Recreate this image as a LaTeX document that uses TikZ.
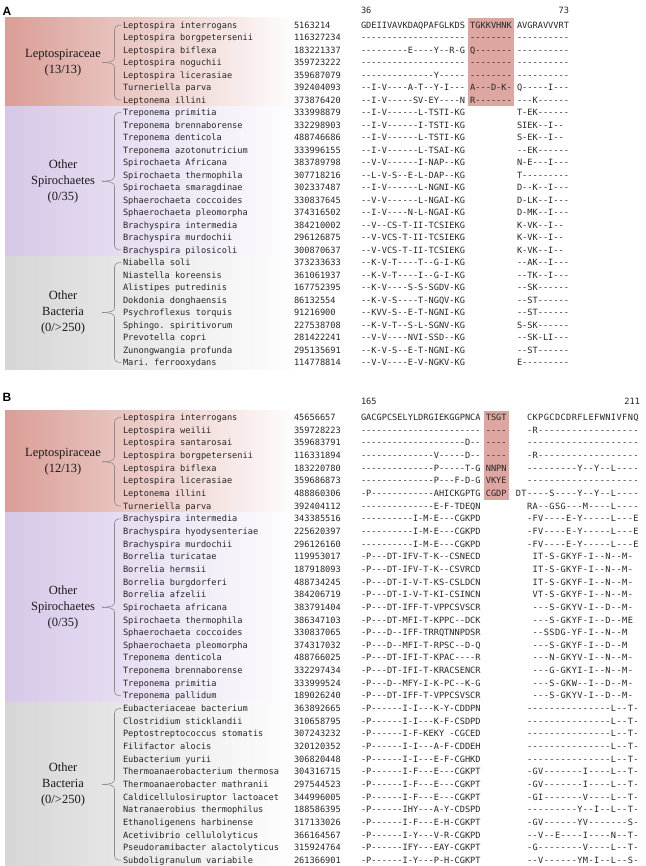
\documentclass[tikz,border=0pt]{standalone}
\usepackage{fontspec}
\setmainfont{Liberation Serif}
\setmonofont{DejaVu Sans Mono}
\newfontfamily\widemono{DejaVu Sans Mono}[LetterSpace=4.6]
\newfontfamily\lsans{Liberation Sans}
\definecolor{pk}{RGB}{218,158,150}
\definecolor{pu}{RGB}{214,199,232}
\definecolor{gy}{RGB}{214,214,214}
\definecolor{hlc}{RGB}{222,166,160}
\tikzset{
 txt/.style={anchor=base west, inner sep=0pt, outer sep=0pt, font=\fontsize{8.64}{10}\selectfont\ttfamily, text=black!85},
 wtxt/.style={txt, font=\fontsize{8.64}{10}\selectfont\widemono},
 hdr/.style={txt},
 hdrr/.style={txt, anchor=base east},
 grp/.style={align=center, font=\fontsize{12.5}{16}\selectfont, text=black!90, inner sep=0pt},
 panel/.style={font=\fontsize{12}{14}\selectfont\lsans\bfseries, inner sep=0pt},
 brc/.style={draw=black!45, line width=0.6pt},
}
\newcommand{\grpbrace}[3]{%
 \draw[brc] (121,#1) .. controls (117,#1) and (114.5,#1+1.5) .. (114.5,#1+5)
   -- (114.5,#3-5) .. controls (114.5,#3-1.5) and (111,#3) .. (102,#3);
 \draw[brc] (102,#3) .. controls (111,#3) and (114.5,#3+1.5) .. (114.5,#3+5)
   -- (114.5,#2-5) .. controls (114.5,#2-1.5) and (117,#2) .. (121,#2);
}
\begin{document}
\begin{tikzpicture}[x=1pt,y=-1pt]
\useasboundingbox (0,0) rectangle (645,866);
% ---------------- panel A backgrounds
\shade[left color=pk, middle color=pk!45!white, right color=white] (5,18) rectangle (300,106.25);
\shade[left color=pu, middle color=pu!45!white, right color=white] (5,106.25) rectangle (300,256.25);
\shade[left color=gy, middle color=gy!55!white, right color=white] (5,256.25) rectangle (300,369.5);
\fill[hlc] (468,18.5) rectangle (514,106);
\node[panel] (pa) at (7,11) {A};
\node[hdr] (h36) at (361,14) {36};
\node[hdrr] (h73) at (569,14) {73};
\node[grp] (ga1) at (63,62.5) {Leptospiraceae\\(13/13)};
\node[grp] (ga2) at (63,181.25) {Other\\Spirochaetes\\(0/35)};
\node[grp] (ga3) at (63,312.5) {Other\\Bacteria\\(0/>250)};
\grpbrace{25}{100}{62.5}
\grpbrace{112.5}{250}{181.25}
\grpbrace{262.5}{362.5}{312.5}
\foreach \n/\id/\p/\h/\q [count=\i from 0] in {
Leptospira interrogans/5163214/GDEIIVAVKDAQPAFGLKDS/TGKKVHNK/AVGRAVVVRT,
Leptospira borgpetersenii/116327234/--------------------/--------/----------,
Leptospira biflexa/183221337/---------E----Y--R-G/Q-------/----------,
Leptospira noguchii/359723222/--------------------/--------/----------,
Leptospira licerasiae/359687079/--------------Y-----/--------/----------,
Turneriella parva/392404093/--I-V----A-T--Y-I---/A---D-K-/Q-----I---,
Leptonema illini/373876420/--I-V-----SV-EY----N/R-------/---K------,
Treponema primitia/333998879/--I-V------L-TSTI-KG//T-EK------,
Treponema brennaborense/332298903/--I-V------I-TSTI-KG//SIEK--I--,
Treponema denticola/488746686/--I-V------L-TSTI-KG//S-EK--I--,
Treponema azotonutricium/333996155/--I-V------L-TSAI-KG//--EK------,
Spirochaeta Africana/383789798/--V-V------I-NAP--KG//N-E---I---,
Spirochaeta thermophila/307718216/--L-V-S--E-L-DAP--KG//T---------,
Spirochaeta smaragdinae/302337487/--I-V------L-NGNI-KG//D--K--I---,
Sphaerochaeta coccoides/330837645/--V-V------L-NGAI-KG//D-LK--I---,
Sphaerochaeta pleomorpha/374316502/--I-V----N-L-NGAI-KG//D-MK--I---,
Brachyspira intermedia/384210002/--V--CS-T-II-TCSIEKG//K-VK--I--,
Brachyspira murdochii/296126875/--V-VCS-T-II-TCSIEKG//K-VK--I--,
Brachyspira pilosicoli/300870637/--V-VCS-T-II-TCSIEKG//K-VK--I--,
Niabella soli/373233633/--K-V-T----T--G-I-KG//--AK--I---,
Niastella koreensis/361061937/--K-V-T----I--G-I-KG//--TK--I---,
Alistipes putredinis/167752395/--K-V----S-S-SGDV-KG//--SK------,
Dokdonia donghaensis/86132554/--K-V-S----T-NGQV-KG//--ST------,
Psychroflexus torquis/91216900/--KVV-S--E-T-NGNI-KG//--ST------,
Sphingo. spiritivorum/227538708/--K-V-T--S-L-SGNV-KG//S-SK------,
Prevotella copri/281422241/--V-V----NVI-SSD--KG//--SK-LI---,
Zunongwangia profunda/295135691/--K-V-S--E-T-NGNI-KG//--ST------,
Mari. ferrooxydans/114778814/--V-V----E-V-NGKV-KG//E---------}{
 \pgfmathsetmacro{\yy}{25+12.5*\i+3.1}
 \node[txt] (an\i) at (123,\yy) {\n};
 \node[txt] (ai\i) at (294,\yy) {\id};
 \node[txt] (ap\i) at (361,\yy) {\p};
 \node[txt] (ah\i) at (470.2,\yy) {\h};
 \node[txt] (aq\i) at (517,\yy) {\q};
}
% ---------------- panel B backgrounds
\shade[left color=pk, middle color=pk!45!white, right color=white] (5,410) rectangle (300,512.4);
\shade[left color=pu, middle color=pu!45!white, right color=white] (5,512.4) rectangle (300,702.1);
\shade[left color=gy, middle color=gy!55!white, right color=white] (5,702.1) rectangle (300,866);
\fill[hlc] (483.5,411) rectangle (509,499.7);
\node[panel] (pb) at (7,397) {B};
\node[hdr] (h165) at (361,404) {165};
\node[hdrr] (h211) at (640,404) {211};
\node[grp] (gb1) at (63,461.8) {Leptospiraceae\\(12/13)};
\node[grp] (gb2) at (63,607.25) {Other\\Spirochaetes\\(0/35)};
\node[grp] (gb3) at (63,784.35) {Other\\Bacteria\\(0/>250)};
\grpbrace{417.5}{506.05}{461.8}
\grpbrace{518.7}{695.8}{607.25}
\grpbrace{708.45}{860.25}{784.35}
\foreach \n/\id/\p/\h/\q/\o [count=\i from 0] in {
Leptospira interrogans/45656657/GACGPCSELYLDRGIEKGGPNCA/TSGT/CKPGCDCDRFLEFWNIVFNQ/0,
Leptospira weilii/359728223/-----------------------/----/-R------------------/0,
Leptospira santarosai/359683791/--------------------D--/----/--------------------/0,
Leptospira borgpetersenii/116331894/--------------V-----D--/----/-R------------------/0,
Leptospira biflexa/183220780/--------------P-----T-G/NNPN/---------Y--Y--L----/0,
Leptospira licerasiae/359686873/--------------P---F-D-G/VKYE/--------------------/0,
Leptonema illini/488860306/-P------------AHICKGPTG/CGDP/DT----S----Y--Y--L----/-2,
Turneriella parva/392404112/--------------E-F-TDEQN//RA--GSG---M----L----/0,
Brachyspira intermedia/343385516/----------I-M-E---CGKPD//-FV----E-Y-----L---E/0,
Brachyspira hyodysenteriae/225620397/----------I-M-E---CGKPD//-FV----E-Y-----L---E/0,
Brachyspira murdochii/296126160/----------I-M-E---CGKPD//-FV----E-Y-----L---E/0,
Borrelia turicatae/119953017/-P---DT-IFV-T-K--CSNECD//IT-S-GKYF-I--N--M-/1,
Borrelia hermsii/187918093/-P---DT-IFV-T-K--CSVRCD//IT-S-GKYF-I--N--M-/1,
Borrelia burgdorferi/488734245/-P---DT-I-V-T-KS-CSLDCN//IT-S-GKYF-I--N--M-/1,
Borrelia afzelii/384206719/-P---DT-I-V-T-KI-CSINCN//VT-S-GKYF-I--N--M-/1,
Spirochaeta africana/383791404/-P---DT-IFF-T-VPPCSVSCR//---S-GKYV-I--D--M-/1,
Spirochaeta thermophila/386347103/-P---DT-MFI-T-KPPC--DCK//---S-GKYF-I--D--ME/1,
Sphaerochaeta coccoides/330837065/-P---D--IFF-TRRQTNNPDSR//--SSDG-YF-I--N--M/1,
Sphaerochaeta pleomorpha/374317032/-P---D--MFI-T-RPSC--D-Q//---S-GKYF-I--D--M/1,
Treponema denticola/488766025/-P---DT-IFI-T-KPAC----R//---N-GKYV-I--N--M-/1,
Treponema brennaborense/332297434/-P---DT-IFI-T-KRACSENCR//---G-GKYI-I--N--M-/1,
Treponema primitia/333999524/-P---D--MFY-I-K-PC--K-G//---S-GKW--I--D--M-/1,
Treponema pallidum/189026240/-P---DT-IFF-T-VPPCSVSCR//---S-GKYV-I--D--M-/1,
Eubacteriaceae bacterium/363892665/-P------I-I---K-Y-CDDPN//---------------L--T-/0,
Clostridium sticklandii/310658795/-P------I-I---K-F-CSDPD//---------------L--T-/0,
Peptostreptococcus stomatis/307243232/-P------I-F-KEKY -CGCED//---------------L--T-/0,
Filifactor alocis/320120352/-P------I-I---A-F-CDDEH//---------------L--T-/0,
Eubacterium yurii/306820448/-P------I-I---E-F-CGHKD//---------------L--T-/0,
Thermoanaerobacterium thermosa/304316715/-P------I-F---E---CGKPT//-GV-------I----L--T-/0,
Thermoanaerobacter mathranii/297544523/-P------I-F---E---CGKPT//-GV-------I----L--T-/0,
Caldicellulosiruptor lactoacet/344996005/-P------I-F---E---CGKPT//-GI-------V----L--T-/0,
Natranaerobius thermophilus/188586395/-P------IHY---A-Y-CDSPD//---------Y--I--L--T-/0,
Ethanoligenens harbinense/317133026/-P------I-F---E-H-CGKPT//-GV------YV-------S-/0,
Acetivibrio cellulolyticus/366164567/-P------I-Y---V-R-CGKPD//--V--E----I----N--T-/0,
Pseudoramibacter alactolyticus/315924764/-P------IFY---EAY-CGKPT//-G--------V----L--T-/0,
Subdoligranulum variabile/261366901/-P------I-Y---P-H-CGKPT//--V------YM-I--L--S-/0}{
 \pgfmathsetmacro{\yy}{417.5+12.65*\i+3.1}
 \pgfmathsetmacro{\xq}{527+5.6*\o}
 \node[txt] (bn\i) at (123,\yy) {\n};
 \node[txt] (bi\i) at (294,\yy) {\id};
 \node[txt] (bp\i) at (361,\yy) {\p};
 \node[txt] (bh\i) at (485.8,\yy) {\h};
 \node[wtxt] (bq\i) at (\xq,\yy) {\q};
}
\end{tikzpicture}
\end{document}
